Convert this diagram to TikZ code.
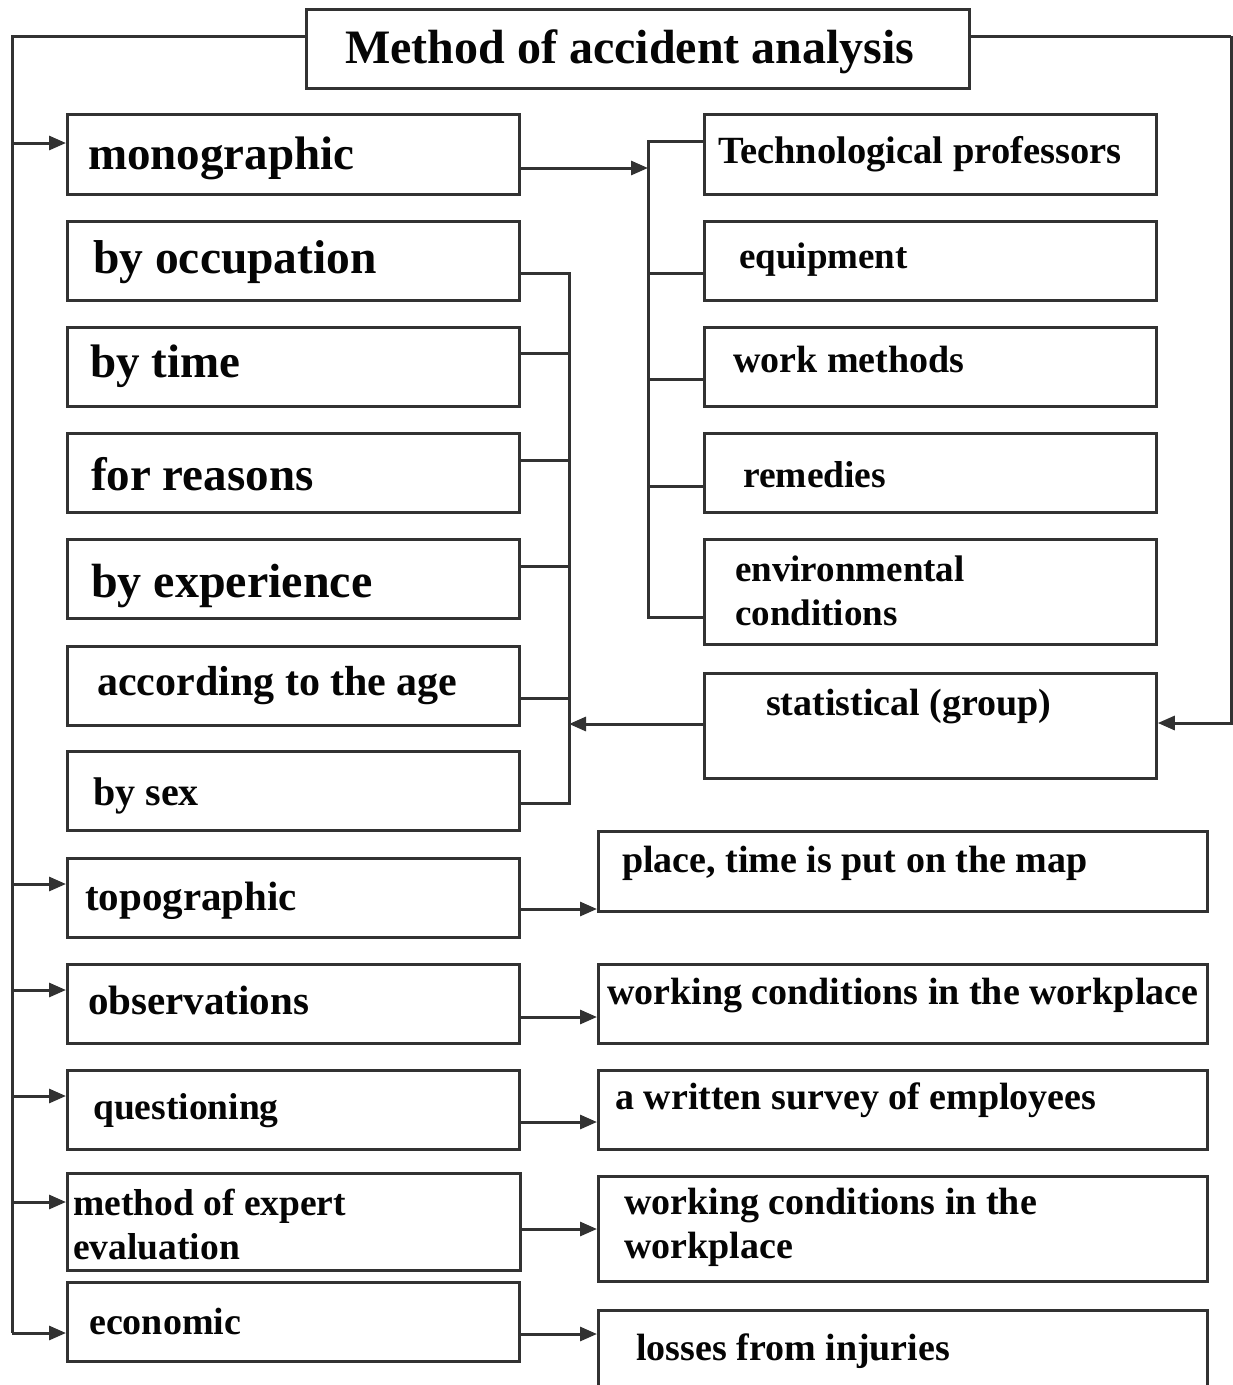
\documentclass[tikz,border=0pt]{standalone}
\usepackage{fontspec}
\setmainfont{Liberation Serif}
\usetikzlibrary{arrows.meta,calc}
\definecolor{ink}{RGB}{50,50,50}
\definecolor{txt}{RGB}{5,5,5}
\tikzset{
  box/.style={draw=ink, line width=2.8pt, rectangle, inner sep=0pt, anchor=north west, fill=white},
  lbl/.style={anchor=base west, inner sep=0pt, text=txt, font={\fontsize{#1}{44}\selectfont\bfseries}},
  lbl/.default=38,
  wire/.style={draw=ink, line width=3pt},
  arr/.style={wire, -{Triangle[length=17pt,width=14pt]}},
}
% box named #1 with corners (#2,#3) and (#4,#5)
\newcommand\boxat[5]{\node[box, minimum width={(#4-#2)*1pt}, minimum height={(#5-#3)*1pt}] (#1) at (#2,#3) {};}
\newcommand\twolines[2]{\vtop{\hbox{#1}\hbox{#2}}}
\begin{document}
\begin{tikzpicture}[x=1pt,y=-1pt]
\useasboundingbox (0,0) rectangle (1233,1385);
\clip (0,0) rectangle (1233,1385);
\fill[white] (0,0) rectangle (1233,1385);

% boxes
\boxat{title}{305}{8}{968}{87}
\boxat{mono}{66}{113}{518}{193}
\boxat{occ}{66}{220}{518}{299}
\boxat{time}{66}{326}{518}{405}
\boxat{reas}{66}{432}{518}{511}
\boxat{exper}{66}{538}{518}{617}
\boxat{age}{66}{645}{518}{724}
\boxat{sex}{66}{750}{518}{829}
\boxat{topo}{66}{857}{518}{936}
\boxat{obs}{66}{963}{518}{1042}
\boxat{quest}{66}{1069}{518}{1148}
\boxat{expert}{66}{1172}{519}{1269}
\boxat{econ}{66}{1281}{518}{1360}
\boxat{tech}{703}{113}{1155}{193}
\boxat{equip}{703}{220}{1155}{299}
\boxat{wmeth}{703}{326}{1155}{405}
\boxat{remed}{703}{432}{1155}{511}
\boxat{env}{703}{538}{1155}{643}
\boxat{stat}{703}{672}{1155}{777}
\boxat{place}{597}{830}{1206}{910}
\boxat{wcond}{597}{963}{1206}{1042}
\boxat{survey}{597}{1069}{1206}{1148}
\boxat{wcondb}{597}{1175}{1206}{1280}
\boxat{loss}{597}{1309}{1206}{1400}

% labels
\node[lbl=48] (titleT) at (345,63) {Method of accident analysis};
\node[lbl=47] (monoT) at (88,169) {monographic};
\node[lbl=47.5] (occT) at (93,273) {by occupation};
\node[lbl=47] (timeT) at (90,377) {by time};
\node[lbl=47] (reasT) at (91,490) {for reasons};
\node[lbl=48] (experT) at (91,597) {by experience};
\node[lbl=42] (ageT) at (97,695) {according to the age};
\node[lbl=40] (sexT) at (93,805) {by sex};
\node[lbl=41] (topoT) at (85,910) {topographic};
\node[lbl=41] (obsT) at (88,1014) {observations};
\node[lbl=37.5] (questT) at (93,1119) {questioning};
\node[lbl=37.5] (expertT) at (73,1215) {\twolines{method of expert}{evaluation}};
\node[lbl=38] (econT) at (89,1334) {economic};
\node[lbl=38.5] (techT) at (718,163) {Technological professors};
\node[lbl=37] (equipT) at (739,268) {equipment};
\node[lbl=38] (wmethT) at (733,372) {work methods};
\node[lbl=37.5] (remedT) at (743,487) {remedies};
\node[lbl=37] (envT) at (735,581) {\twolines{environmental}{conditions}};
\node[lbl=38] (statT) at (766,715) {statistical (group)};
\node[lbl=38] (placeT) at (622,872) {place, time is put on the map};
\node[lbl=38] (wcondT) at (607,1004) {working conditions in the workplace};
\node[lbl=38] (surveyT) at (615,1109) {a written survey of employees};
\node[lbl=38] (wcondbT) at (624,1214) {\twolines{working conditions in the}{workplace}};
\node[lbl=38] (lossT) at (636,1360) {losses from injuries};

% outer buses from the title
\coordinate (lb) at (12,36);
\coordinate (rb) at (1231,36);
\draw[wire] (title.west |- lb) -- (lb) -- (lb |- 0,1333);
\draw[wire] (title.east |- rb) -- (rb);
\draw[arr] (rb) |- (stat.east |- 0,723);

% arrows off the left bus
\draw[arr] (lb |- 0,143) -- (mono.west |- 0,143);
\draw[arr] (lb |- 0,884) -- (topo.west |- 0,884);
\draw[arr] (lb |- 0,990) -- (obs.west |- 0,990);
\draw[arr] (lb |- 0,1096) -- (quest.west |- 0,1096);
\draw[arr] (lb |- 0,1202) -- (expert.west |- 0,1202);
\draw[arr] (lb |- 0,1333) -- (econ.west |- 0,1333);

% bracket collecting the statistical sub-methods
\coordinate (gb) at (569,273);
\draw[wire] (occ.east |- gb) -- (gb) -- (gb |- 0,803) -- (sex.east |- 0,803);
\draw[wire] (time.east |- 0,353) -- (gb |- 0,353);
\draw[wire] (reas.east |- 0,460) -- (gb |- 0,460);
\draw[wire] (exper.east |- 0,566) -- (gb |- 0,566);
\draw[wire] (age.east |- 0,698) -- (gb |- 0,698);
\draw[arr] (stat.west |- 0,724) -- (gb |- 0,724);

% bracket for the monographic aspects
\coordinate (tb) at (648,141);
\draw[wire] (tech.west |- tb) -- (tb) -- (tb |- 0,617) -- (env.west |- 0,617);
\draw[wire] (equip.west |- 0,273) -- (tb |- 0,273);
\draw[wire] (wmeth.west |- 0,379) -- (tb |- 0,379);
\draw[wire] (remed.west |- 0,486) -- (tb |- 0,486);
\draw[arr] (mono.east |- 0,168) -- (tb |- 0,168);

% arrows to the descriptions
\draw[arr] (topo.east |- 0,909) -- (place.west |- 0,909);
\draw[arr] (obs.east |- 0,1017) -- (wcond.west |- 0,1017);
\draw[arr] (quest.east |- 0,1122) -- (survey.west |- 0,1122);
\draw[arr] (expert.east |- 0,1229) -- (wcondb.west |- 0,1229);
\draw[arr] (econ.east |- 0,1334) -- (loss.west |- 0,1334);
\end{tikzpicture}
\end{document}
